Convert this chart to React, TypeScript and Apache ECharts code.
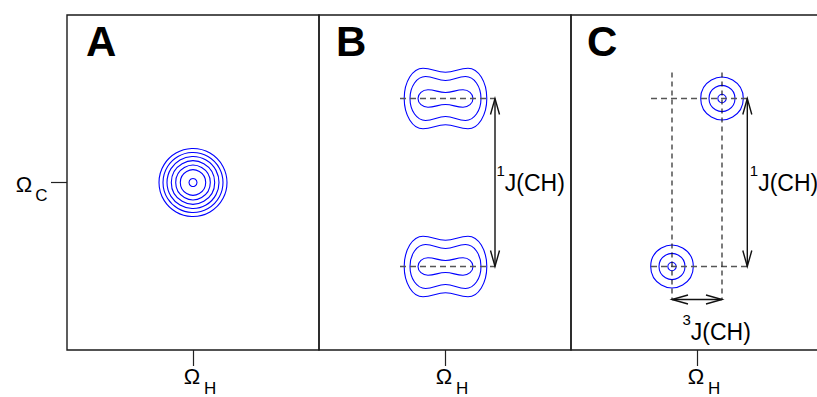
import React, { useEffect, useRef } from 'react';
import * as echarts from 'echarts';

const FONT = '"Liberation Sans", Arial, Helvetica, sans-serif';

// panel letters and axis tick labels
const panelLetters = ['A', 'B', 'C'];
const xTickText = ['Ω', 'H'];
const yTickText = ['Ω', 'C'];

// Panel A: one peak with concentric contour rings (radii in axis units)
const peakA = [0, 0];
const ringRadiiA = [34, 30, 26, 21.7, 17.3, 12.7, 4];

// Panel B: two peaks split by 1J(CH); each contour = [halfWidth, lobeHalfHeight, waistHalfHeight, lobeOffset]
const peaksB = [[0.5, 84], [0.5, -84]];
const contoursB = [
  [41.3, 30.3, 26.3, 22.5],
  [35.5, 22, 18, 20],
  [27.5, 8.7, 6, 17.5],
];
const guidesB = [[-45, 84, 50, 84], [-45, -84, 50, -84]];
const arrowsB = [[50, 84, 50, -84]];
const labelPosB = [[51.5, 20]];
const labelTextB = [['1', 'J(CH)']];

// Panel C: two peaks split by 1J(CH) and 3J(CH)
const peaksC = [[25, 84], [-25, -84]];
const ringRadiiC = [21.3, 13, 4.2];
const guidesCH = [[-46, 84, 50, 84], [-46, -84, 50, -84]];
const guidesCV = [[-25, 110, -25, -117], [25, 110, 25, -117]];
const arrowsC = [[50.3, 84, 50.3, -84], [-25, -117, 25, -117]];
const labelPosC = [[52.8, 20], [-14.5, -129]];
const labelTextC = [['1', 'J(CH)'], ['3', 'J(CH)']];

const BLUE = '#0000ff';

function ringItem(params: any, api: any) {
  const c = api.coord([api.value(0), api.value(1)]);
  const s = api.size([api.value(2), api.value(2)]);
  return {
    type: 'circle',
    shape: { cx: c[0], cy: c[1], r: s[0] },
    style: { fill: 'none', stroke: BLUE, lineWidth: 1.1 },
  };
}

function peanutItem(params: any, api: any) {
  const cx = api.value(0), cy = api.value(1);
  const a = api.value(2), hl = api.value(3), hw = api.value(4), xl = api.value(5);
  const k = 0.5523;
  const P = (dx: number, dy: number) => {
    const p = api.coord([cx + dx, cy + dy]);
    return p[0].toFixed(2) + ' ' + p[1].toFixed(2);
  };
  const seg = (sg: number, dir: number) => {
    const X = (v: number) => v * dir;
    return (
      'C ' + P(X(a), sg * k * hl) + ' ' + P(X(xl + k * (a - xl)), sg * hl) + ' ' + P(X(xl), sg * hl) +
      ' C ' + P(X(xl * 0.6), sg * hl) + ' ' + P(X(xl * 0.4), sg * hw) + ' ' + P(0, sg * hw) +
      ' C ' + P(X(-xl * 0.4), sg * hw) + ' ' + P(X(-xl * 0.6), sg * hl) + ' ' + P(X(-xl), sg * hl) +
      ' C ' + P(X(-xl - k * (a - xl)), sg * hl) + ' ' + P(X(-a), sg * k * hl) + ' ' + P(X(-a), 0)
    );
  };
  const d = 'M ' + P(a, 0) + ' ' + seg(1, 1) + ' ' + seg(-1, -1) + ' Z';
  return {
    type: 'path',
    shape: { pathData: d },
    style: { fill: 'none', stroke: BLUE, lineWidth: 1.1 },
  };
}

function dashItemFactory(color: string, width: number, dash: number[]) {
  return (params: any, api: any) => {
    const p1 = api.coord([api.value(0), api.value(1)]);
    const p2 = api.coord([api.value(2), api.value(3)]);
    return {
      type: 'line',
      shape: { x1: p1[0], y1: p1[1], x2: p2[0], y2: p2[1] },
      style: { stroke: color, lineWidth: width, lineDash: dash },
    };
  };
}

function arrowItem(params: any, api: any) {
  const p1 = api.coord([api.value(0), api.value(1)]);
  const p2 = api.coord([api.value(2), api.value(3)]);
  const dx = p2[0] - p1[0], dy = p2[1] - p1[1];
  const len = Math.hypot(dx, dy) || 1;
  const ux = dx / len, uy = dy / len, nx = -uy, ny = ux;
  const L = 16, W = 4.5;
  const head = (t: number[], s: number) => [
    [t[0] + s * ux * L + nx * W, t[1] + s * uy * L + ny * W],
    [t[0], t[1]],
    [t[0] + s * ux * L - nx * W, t[1] + s * uy * L - ny * W],
  ];
  const st = { stroke: '#111', lineWidth: 1.4, fill: 'none' };
  return {
    type: 'group',
    children: [
      { type: 'line', shape: { x1: p1[0], y1: p1[1], x2: p2[0], y2: p2[1] }, style: st },
      { type: 'polyline', shape: { points: head(p1, 1) }, style: st },
      { type: 'polyline', shape: { points: head(p2, -1) }, style: st },
    ],
  };
}

function labelItemFactory(texts: string[][]) {
  return (params: any, api: any) => {
    const p = api.coord([api.value(0), api.value(1)]);
    const t = texts[params.dataIndex];
    return {
      type: 'text', x: p[0], y: p[1],
      style: {
        text: '{s|' + t[0] + '}{m|' + t[1] + '}',
        align: 'left', verticalAlign: 'top', fill: '#000',
        rich: {
          s: { fontSize: 15, lineHeight: 15, fontFamily: FONT, fill: '#000', verticalAlign: 'top' },
          m: { fontSize: 23, lineHeight: 23, fontFamily: FONT, fill: '#000', verticalAlign: 'top', padding: [8.5, 0, 0, 0] },
        },
      },
    };
  };
}

const gridLefts = [67, 319, 571];
const gridWidth = 252;

export default function App() {
  const ref = useRef<HTMLDivElement>(null);
  useEffect(() => {
    if (!ref.current) return;
    const chart = echarts.init(ref.current, null, { renderer: 'svg' });

    const grids = gridLefts.map((l) => ({
      left: l, top: 15, width: gridWidth, height: 335,
      show: true, borderColor: '#1a1a1a', borderWidth: 1.4, containLabel: false,
      outerBoundsMode: 'none',
    }));

    const xAxes = gridLefts.map((_, i) => ({
      type: 'value', gridIndex: i, min: -126, max: 126, position: 'bottom',
      splitLine: { show: false },
      axisLine: { show: false, onZero: false },
      axisTick: { show: true, customValues: [0], length: 16, lineStyle: { color: '#222', width: 1.2 } },
      axisLabel: {
        show: true, customValues: [0], margin: 15, padding: [0, 0, 0, 14],
        formatter: () => '{o|' + xTickText[0] + '}{h|' + xTickText[1] + '}',
        rich: {
          o: { fontSize: 22, fontFamily: FONT, color: '#000', verticalAlign: 'top', lineHeight: 22 },
          h: { fontSize: 17, fontFamily: FONT, color: '#000', verticalAlign: 'top', lineHeight: 13, padding: [15, 0, 0, 4] },
        },
      },
    }));

    const yAxes = gridLefts.map((_, i) => ({
      type: 'value', gridIndex: i, min: -167.5, max: 167.5, position: 'left',
      splitLine: { show: false },
      axisLine: { show: false, onZero: false },
      axisTick: { show: i === 0, customValues: [0], length: 16, lineStyle: { color: '#222', width: 1.2 } },
      axisLabel: {
        show: i === 0, customValues: [0], margin: 19.5, padding: [3, 0, 0, 0],
        formatter: () => '{o|' + yTickText[0] + '}{c|' + yTickText[1] + '}',
        rich: {
          o: { fontSize: 22, fontFamily: FONT, color: '#000', verticalAlign: 'top', lineHeight: 22 },
          c: { fontSize: 17, fontFamily: FONT, color: '#000', verticalAlign: 'top', lineHeight: 17, padding: [14, 0, 0, 3] },
        },
      },
    }));

    const custom = (idx: number, data: number[][], renderItem: any) => ({
      type: 'custom', xAxisIndex: idx, yAxisIndex: idx, silent: true, clip: false,
      data, renderItem,
    });

    const gray = dashItemFactory('#555', 1.3, [6, 4]);
    const black = dashItemFactory('#111', 1.1, [5, 4]);

    const option = {
      animation: false,
      backgroundColor: '#fff',
      grid: grids,
      xAxis: xAxes,
      yAxis: yAxes,
      graphic: panelLetters.map((t, i) => ({
        type: 'text',
        x: gridLefts[i] + [19, 17, 16][i],
        y: 41.5,
        style: { text: t, fontSize: 42, fontWeight: 'bold', fontFamily: FONT, fill: '#000', verticalAlign: 'middle' },
      })),
      series: [
        custom(0, ringRadiiA.map((r) => [peakA[0], peakA[1], r]), ringItem),
        custom(1, peaksB.flatMap((p) => contoursB.map((c) => [p[0], p[1], ...c])), peanutItem),
        custom(1, guidesB, gray),
        custom(1, arrowsB, arrowItem),
        custom(1, labelPosB, labelItemFactory(labelTextB)),
        custom(2, peaksC.flatMap((p) => ringRadiiC.map((r) => [p[0], p[1], r])), ringItem),
        custom(2, guidesCH, gray),
        custom(2, guidesCV, black),
        custom(2, arrowsC, arrowItem),
        custom(2, labelPosC, labelItemFactory(labelTextC)),
      ],
    };
    chart.setOption(option as any);
    return () => chart.dispose();
  }, []);
  return (
    <div
      ref={ref}
      style={{ position: 'fixed', left: 0, top: 0, width: 817, height: 397, background: '#fff' }}
    />
  );
}
